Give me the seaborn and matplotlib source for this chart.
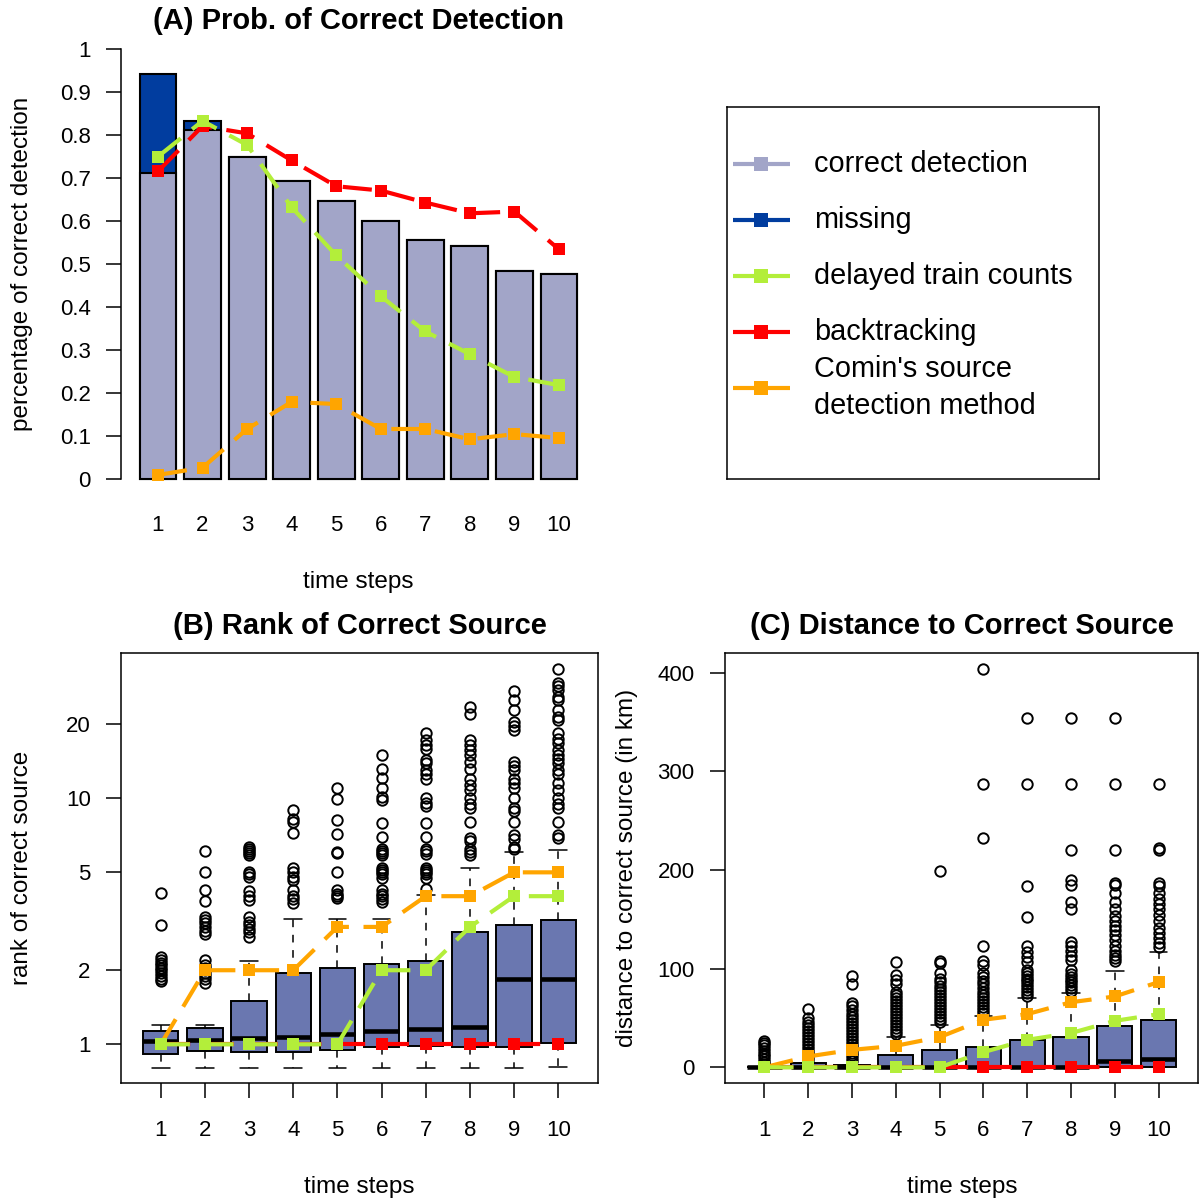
import numpy as np
import matplotlib
matplotlib.use("Agg")
import matplotlib.pyplot as plt
import seaborn as sns

# ---------------- data ----------------
steps = [1, 2, 3, 4, 5, 6, 7, 8, 9, 10]
step_labels = [str(s) for s in steps]

# Panel A: probability of correct detection
correct_detection = [0.712, 0.811, 0.750, 0.694, 0.647, 0.600, 0.556, 0.543, 0.484, 0.477]
missing = [0.230, 0.022, 0, 0, 0, 0, 0, 0, 0, 0]
delayed_A = [0.750, 0.833, 0.777, 0.632, 0.520, 0.425, 0.343, 0.290, 0.237, 0.218]
backtracking_A = [0.716, 0.821, 0.804, 0.741, 0.681, 0.671, 0.643, 0.618, 0.622, 0.534]
comin_A = [0.009, 0.026, 0.116, 0.179, 0.174, 0.116, 0.116, 0.092, 0.104, 0.095]

# Panel B: rank of correct source (box summaries)
rank_q1 = [0.917, 0.939, 0.933, 0.933, 0.948, 0.972, 0.980, 0.972, 0.975, 1.015]
rank_med = [1.031, 1.041, 1.064, 1.074, 1.098, 1.130, 1.154, 1.180, 1.850, 1.850]
rank_q3 = [1.137, 1.161, 1.503, 1.955, 2.040, 2.120, 2.190, 2.870, 3.050, 3.200]
rank_lo = [0.804, 0.804, 0.804, 0.804, 0.804, 0.804, 0.804, 0.804, 0.804, 0.810]
rank_hi = [1.195, 1.195, 2.190, 3.220, 3.220, 3.220, 4.040, 5.190, 6.030, 6.170]
rank_out_1 = [1.8, 1.85, 1.9, 1.95, 2.0, 2.05, 2.1, 2.15, 2.2, 2.27, 3.05, 4.13]
rank_out_2 = [1.78, 1.85, 1.9, 1.95, 2.0, 2.05, 2.1, 2.2, 2.8, 2.9, 3.0, 3.1, 3.2, 3.3, 3.83, 4.23, 5.0, 6.12]
rank_out_3 = [2.73, 2.85, 2.95, 3.05, 3.15, 3.3, 3.85, 4.0, 4.2, 4.8, 4.9, 5.0, 5.88, 6.0, 6.1, 6.2, 6.35]
rank_out_4 = [3.76, 3.9, 4.0, 4.23, 4.66, 4.8, 5.0, 5.2, 7.2, 8.03, 8.2, 8.96]
rank_out_5 = [3.92, 4.0, 4.1, 4.23, 5.0, 5.98, 6.07, 7.13, 8.16, 9.9, 10.97]
rank_out_6 = [3.8, 3.9, 4.0, 4.1, 4.23, 4.75, 4.9, 5.0, 5.1, 5.2, 5.9, 6.0, 6.1, 6.2,
              6.98, 7.96, 9.8, 10.1, 10.97, 12.05, 13.1, 15.0]
rank_out_7 = [4.26, 4.75, 4.9, 5.0, 5.1, 5.2, 5.95, 6.1, 6.2, 6.98, 7.96, 9.3, 9.6, 10.0,
              12.0, 12.5, 13.0, 13.9, 14.3, 15.9, 16.5, 17.2, 18.4]
rank_out_8 = [5.9, 6.05, 6.2, 6.7, 6.9, 8.0, 9.1, 9.5, 10.0, 10.8, 11.3, 12.0, 13.2, 14.0,
              15.0, 15.7, 16.4, 17.2, 22.1, 23.4]
rank_out_9 = [6.2, 6.35, 6.8, 7.1, 8.0, 8.85, 9.1, 10.0, 11.0, 11.5, 12.0, 13.0, 13.5, 14.0,
              19.0, 19.7, 20.5, 22.9, 25.2, 27.4]
rank_out_10 = [6.9, 7.1, 8.0, 9.1, 9.5, 10.0, 10.8, 11.5, 12.6, 13.0, 13.9, 14.5, 15.0, 15.7,
               16.8, 17.5, 18.4, 20.8, 21.5, 22.8, 25.1, 25.9, 27.6, 28.5, 29.3, 33.4]
rank_outliers = [rank_out_1, rank_out_2, rank_out_3, rank_out_4, rank_out_5,
                 rank_out_6, rank_out_7, rank_out_8, rank_out_9, rank_out_10]
delayed_B = [1, 1, 1, 1, 1, 2, 2, 3, 4, 4]
backtracking_B = [1, 1, 1, 1, 1, 1, 1, 1, 1, 1]
comin_B = [1, 2, 2, 2, 3, 3, 4, 4, 5, 5]

# Panel C: distance to correct source in km (box summaries)
dist_q1 = [0, 0, 0, 0, 0, 0, 0, 0, 0, 0]
dist_med = [0, 0, 0, 0, 0, 0, 0, 0, 5.9, 8.3]
dist_q3 = [0, 4, 2.5, 12.7, 17.7, 21, 27.9, 30.6, 42, 47.5]
dist_lo = [0, 0, 0, 0, 0, 0, 0, 0, 0, 0]
dist_hi = [0, 4, 2.5, 31.2, 43, 52.5, 70, 75.2, 98.1, 117.4]
dist_out_1 = [1, 3, 5, 8, 11, 14, 17, 20, 23, 25, 27]
dist_out_2 = [7, 10, 13, 16, 19, 22, 25, 28, 31, 34, 37, 40, 43, 46, 50, 59]
dist_out_3 = [6, 9, 12, 15, 18, 21, 24, 27, 30, 33, 36, 39, 42, 45, 48, 51, 54, 58, 62, 65, 84, 93]
dist_out_4 = [34, 37, 40, 43, 46, 49, 52, 55, 58, 61, 64, 67, 70, 73, 76, 84, 89, 94, 107]
dist_out_5 = [46, 49, 52, 55, 58, 61, 64, 67, 70, 73, 76, 79, 82, 86, 90, 96, 106, 108, 199]
dist_out_6 = [55, 58, 61, 64, 67, 70, 73, 76, 80, 84, 88, 92, 96, 104, 108, 123, 232, 287, 404]
dist_out_7 = [72, 75, 78, 81, 84, 87, 90, 93, 96, 99, 107, 112, 117, 123, 152, 184, 287, 354]
dist_out_8 = [77, 80, 83, 86, 89, 92, 95, 99, 109, 113, 118, 123, 127, 160, 168, 185, 190, 220, 287, 354]
dist_out_9 = [108, 111, 114, 118, 123, 129, 134, 139, 143, 148, 153, 160, 168, 177, 185, 187, 220, 287, 354]
dist_out_10 = [122, 126, 131, 136, 141, 148, 154, 160, 166, 171, 177, 184, 187, 220, 222, 287]
dist_outliers = [dist_out_1, dist_out_2, dist_out_3, dist_out_4, dist_out_5,
                 dist_out_6, dist_out_7, dist_out_8, dist_out_9, dist_out_10]
delayed_C = [0, 0, 0, 0, 0, 15.4, 27.9, 34.7, 47.1, 53.9]
backtracking_C = [0, 0, 0, 0, 0, 0, 0, 0, 0, 0]
comin_C = [0, 11, 17.7, 21.8, 30.6, 48.2, 53.9, 66, 71.8, 86.4]

legend_labels = ["correct detection", "missing", "delayed train counts",
                 "backtracking", "Comin's source\ndetection method"]

# ---------------- style ----------------
C_LIGHT = "#A2A5C8"
C_DARK = "#013D9F"
C_BOX = "#6A77B0"
C_GREEN = "#B3EE3A"
C_RED = "#FF0000"
C_ORANGE = "#FFA500"

sns.set_theme(style="white")
plt.rcParams["font.family"] = ["Liberation Sans", "DejaVu Sans"]
plt.rcParams["text.color"] = "black"
plt.rcParams["xtick.color"] = "black"
plt.rcParams["ytick.color"] = "black"
plt.rcParams["axes.labelcolor"] = "black"

W, H = 1203, 1202
fig = plt.figure(figsize=(W / 100, H / 100), dpi=100)
fig.patch.set_facecolor("white")


def px_axes(x0, y0, x1, y1):
    return fig.add_axes([x0 / W, 1 - y1 / H, (x1 - x0) / W, (y1 - y0) / H])


TICK_FS = 16
LAB_FS = 17.5
TITLE_FS = 21
LW = 3.0
MS = 8
DASH = (0, (7, 3.5))


def add_lines(ax, ser):
    for vals, col in ser:
        sns.lineplot(x=steps, y=vals, color=col, lw=LW, ls=DASH, marker="s",
                     markersize=MS, markeredgewidth=0, ax=ax, legend=False,
                     clip_on=False, zorder=5)


# ---------------- Panel A ----------------
axA = px_axes(121, 32, 598, 496)
total_A = [c + m for c, m in zip(correct_detection, missing)]
sns.barplot(x=steps, y=total_A, native_scale=True, orient="x", width=0.83,
            color=C_DARK, edgecolor="black", linewidth=1.5, saturation=1,
            errorbar=None, ax=axA)
sns.barplot(x=steps, y=correct_detection, native_scale=True, orient="x", width=0.83,
            color=C_LIGHT, edgecolor="black", linewidth=1.5, saturation=1,
            errorbar=None, ax=axA)
add_lines(axA, [(backtracking_A, C_RED), (comin_A, C_ORANGE), (delayed_A, C_GREEN)])
axA.set_ylim(-0.04, 1.04)
axA.set_xlim(1 - 37 / 44.56, 10 + 39 / 44.56)
for s in ["top", "right", "bottom"]:
    axA.spines[s].set_visible(False)
axA.spines["left"].set_bounds(0, 1)
axA.spines["left"].set_color("black")
axA.spines["left"].set_linewidth(1.1)
yt = np.round(np.arange(0, 1.01, 0.1), 1)
axA.set_yticks(yt)
axA.set_yticklabels(["0"] + [f"{v:.1f}" for v in yt[1:-1]] + ["1"])
axA.set_xticks(steps)
axA.set_xticklabels(step_labels)
axA.tick_params(axis="y", left=True, length=10.8, width=1.1, pad=11,
                labelsize=TICK_FS, color="black", labelcolor="black")
axA.tick_params(axis="x", bottom=False, length=0, pad=14, labelsize=TICK_FS,
                labelcolor="black")
axA.set_xlabel("")
axA.set_ylabel("")
axA.set_facecolor("none")


def box_panel(ax, q1, med, q3, lo, hi, outs):
    stats = []
    for i in range(len(steps)):
        stats.append(dict(q1=q1[i], med=med[i], q3=q3[i], whislo=lo[i],
                          whishi=hi[i], fliers=np.array(outs[i])))
    ax.bxp(stats, positions=steps, widths=0.8, patch_artist=True,
           manage_ticks=False,
           boxprops=dict(facecolor=C_BOX, edgecolor="black", linewidth=1.4),
           medianprops=dict(color="black", linewidth=3.3, solid_capstyle="butt"),
           whiskerprops=dict(color="black", linewidth=1.1, linestyle=(0, (5, 5))),
           capprops=dict(color="black", linewidth=1.1),
           flierprops=dict(marker="o", markerfacecolor="none", markeredgecolor="black",
                           markersize=7.5, markeredgewidth=1.4, linestyle="none"))


def frame(ax):
    for s in ax.spines.values():
        s.set_visible(True)
        s.set_color("black")
        s.set_linewidth(1.1)
    ax.tick_params(axis="both", which="major", left=True, bottom=True, length=10.8,
                   width=1.1, labelsize=TICK_FS, color="black", labelcolor="black")
    ax.tick_params(axis="y", pad=11)
    ax.tick_params(axis="x", pad=16)
    ax.set_xlim(0.1, 10.9)
    ax.set_xticks(steps)
    ax.set_xticklabels(step_labels)
    ax.set_xlabel("")
    ax.set_ylabel("")


# ---------------- Panel B ----------------
axB = px_axes(121, 653, 598, 1083)
axB.set_yscale("log")
box_panel(axB, rank_q1, rank_med, rank_q3, rank_lo, rank_hi, rank_outliers)
add_lines(axB, [(backtracking_B, C_RED), (comin_B, C_ORANGE), (delayed_B, C_GREEN)])
axB.set_ylim(0.696, 38.96)
axB.set_yticks([1, 2, 5, 10, 20])
axB.set_yticklabels(["1", "2", "5", "10", "20"])
axB.yaxis.set_minor_locator(matplotlib.ticker.NullLocator())
frame(axB)

# ---------------- Panel C ----------------
axC = px_axes(725, 653, 1198, 1083)
box_panel(axC, dist_q1, dist_med, dist_q3, dist_lo, dist_hi, dist_outliers)
add_lines(axC, [(backtracking_C, C_RED), (comin_C, C_ORANGE), (delayed_C, C_GREEN)])
axC.set_ylim(-15.9, 420)
axC.set_yticks([0, 100, 200, 300, 400])
axC.set_yticklabels(["0", "100", "200", "300", "400"])
frame(axC)

# ---------------- Legend ----------------
axL = px_axes(727, 107, 1099, 479)
axL.set_xlim(727, 1099)
axL.set_ylim(479, 107)
axL.set_xticks([])
axL.set_yticks([])
for s in axL.spines.values():
    s.set_visible(True)
    s.set_color("black")
    s.set_linewidth(1.1)
leg_cols = [C_LIGHT, C_DARK, C_GREEN, C_RED, C_ORANGE]
leg_y = [164, 220, 276, 332, 387.5]
for lab, col, yy in zip(legend_labels, leg_cols, leg_y):
    axL.plot([733, 790], [yy, yy], color=col, lw=LW, solid_capstyle="butt")
    axL.plot([761.5], [yy], color=col, marker="s", markersize=10, markeredgewidth=0,
             linestyle="none")
    axL.text(814, yy, lab, ha="left", va="center", fontsize=20.8, color="black",
             linespacing=1.38)

# ---------------- Texts ----------------
def ftext(x, y, s, **kw):
    fig.text(x / W, 1 - y / H, s, ha="center", va="center", color="black", **kw)

ftext(358, 21, "(A) Prob. of Correct Detection", fontsize=TITLE_FS, fontweight="bold")
ftext(359.5, 626, "(B) Rank of Correct Source", fontsize=TITLE_FS, fontweight="bold")
ftext(962, 626, "(C) Distance to Correct Source", fontsize=TITLE_FS, fontweight="bold")
ftext(358, 582, "time steps", fontsize=LAB_FS)
ftext(359.5, 1187, "time steps", fontsize=LAB_FS)
ftext(962, 1187, "time steps", fontsize=LAB_FS)
ftext(22, 264, "percentage of correct detection", fontsize=LAB_FS, rotation=90)
ftext(22, 868, "rank of correct source", fontsize=LAB_FS, rotation=90)
ftext(627, 868, "distance to correct source (in km)", fontsize=LAB_FS, rotation=90)

fig.savefig("out.png", dpi=100, facecolor="white")
